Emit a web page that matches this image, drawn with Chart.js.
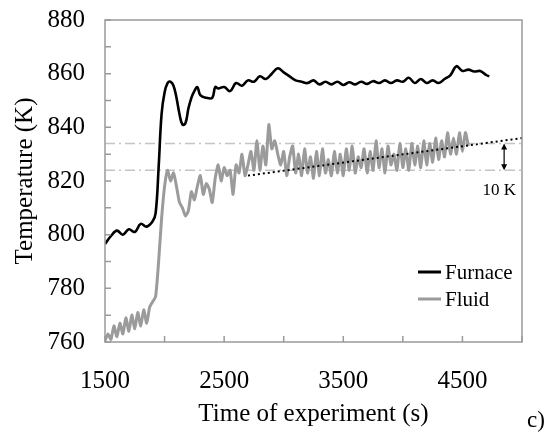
<!DOCTYPE html>
<html>
<head>
<meta charset="utf-8">
<script src="https://cdn.jsdelivr.net/npm/chart.js@4.4.0/dist/chart.umd.min.js"></script>
<style>
  html, body { margin: 0; padding: 0; background: #fff; }
  #wrap { width: 547px; height: 440px; }
</style>
</head>
<body>
<div id="wrap"><canvas id="c" width="547" height="440"></canvas></div>
<script>
const furnaceTime = [1500, 1550, 1600, 1650, 1700, 1750, 1800, 1850, 1900, 1925, 1950, 1975, 2000, 2025,
    2050, 2075, 2100, 2125, 2150, 2175, 2200, 2225, 2250, 2275, 2300, 2350, 2400, 2425, 2450, 2500,
    2550, 2600, 2650, 2700, 2750, 2800, 2850, 2900, 2950, 3000, 3050, 3100, 3150, 3200, 3250, 3300,
    3350, 3400, 3450, 3500, 3550, 3600, 3650, 3700, 3750, 3800, 3850, 3900, 3950, 4000, 4050, 4100,
    4150, 4200, 4250, 4300, 4350, 4400, 4450, 4500, 4550, 4600, 4650, 4700, 4725];
const furnaceTemp = [796.5, 799.5, 801.5, 800, 802, 801, 804, 803, 805, 808, 825, 845, 853, 856.5,
    857, 855.5, 851, 845, 841, 841.5, 847, 851, 853.5, 855, 852, 851, 851, 855, 854.5, 855,
    853.5, 856.5, 855.5, 857.5, 857, 859, 858, 860, 862, 860.5, 859, 857.5, 857, 856.5, 857.5, 856,
    857, 856, 857, 855.8, 856.8, 856, 857, 856.2, 857.2, 856.5, 857.5, 856.5, 857.5, 857, 858.5, 856.5,
    858, 856.5, 857.5, 856.5, 858, 859.5, 862.8, 861, 861.5, 860.8, 861, 859.5, 859];

const fluidTime = [1500, 1525, 1550, 1575, 1600, 1625, 1650, 1675, 1700, 1725, 1750, 1775, 1800, 1825,
    1850, 1875, 1900, 1925, 1950, 1975, 2000, 2025, 2050, 2075, 2100, 2125, 2150, 2175, 2200, 2225,
    2250, 2275, 2300, 2325, 2350, 2375, 2400, 2425, 2450, 2475, 2500, 2525, 2550, 2575, 2600, 2625,
    2650, 2675, 2700, 2725, 2750, 2775, 2800, 2825, 2850, 2875, 2900, 2925, 2950, 2975, 3000, 3025,
    3050, 3075, 3100, 3125, 3150, 3175, 3200, 3225, 3250, 3275, 3300, 3325, 3350, 3375, 3400, 3425,
    3450, 3475, 3500, 3525, 3550, 3575, 3600, 3625, 3650, 3675, 3700, 3725, 3750, 3775, 3800, 3825,
    3850, 3875, 3900, 3925, 3950, 3975, 4000, 4025, 4050, 4075, 4100, 4125, 4150, 4175, 4200, 4225,
    4250, 4275, 4300, 4325, 4350, 4375, 4400, 4425, 4450, 4475, 4500, 4525, 4550];
const fluidTemp = [760.5, 763, 761, 766, 762, 767, 763, 769, 764, 770, 765, 771, 766, 772,
    767, 773, 775, 777, 790, 806, 818, 824, 820, 823, 818, 812, 810, 807, 809, 816,
    813, 818, 822, 815, 819, 817, 812, 821, 826, 820, 825, 822, 824, 815, 826, 823,
    830, 822, 826, 831, 824, 835, 824, 833, 826, 841, 832, 835, 830, 826, 831, 822,
    829, 833, 823, 830, 822, 832, 823, 829, 821, 831, 822, 832, 823, 828, 822, 831,
    823, 830, 822, 832, 824, 833, 823, 829, 825, 832, 823, 831, 824, 835, 825, 832,
    823, 833, 826, 830, 824, 834, 825, 832, 824, 834, 826, 833, 825, 835, 826, 834,
    827, 836, 828, 835, 829, 838, 830, 836, 830, 838, 831, 838, 833];

// 10 K band and trend line
const bandTemps = [824, 834];
const trendTime = [2700, 5000];
const trendTemp = [822, 836];
const arrowTime = 4850;
const xTickLabels = [1500, 2500, 3500, 4500];

const serif = "'Liberation Serif', 'Times New Roman', serif";

function pts(xs, ys) {
    return xs.map((x, i) => ({ x: x, y: ys[i] }));
}

const frameAndTicks = {
    id: 'frameAndTicks',
    afterDatasetsDraw(chart) {
        const { ctx, chartArea: a, scales } = chart;
        ctx.save();
        ctx.strokeStyle = '#9a9a9a';
        ctx.lineWidth = 1.5;
        ctx.beginPath();
        scales.x.ticks.forEach(t => {
            const px = scales.x.getPixelForValue(t.value);
            ctx.moveTo(px, a.bottom);
            ctx.lineTo(px, a.bottom - 6);
        });
        scales.y.ticks.forEach(t => {
            const py = scales.y.getPixelForValue(t.value);
            ctx.moveTo(a.left, py);
            ctx.lineTo(a.left + 6, py);
        });
        ctx.stroke();
        ctx.strokeRect(a.left, a.top, a.right - a.left, a.bottom - a.top);
        ctx.restore();
    }
};

const annotations = {
    id: 'annotations',
    afterDatasetsDraw(chart) {
        const { ctx, scales } = chart;
        const x = scales.x.getPixelForValue(arrowTime);
        const y1 = scales.y.getPixelForValue(bandTemps[1]);
        const y2 = scales.y.getPixelForValue(bandTemps[0]);
        ctx.save();
        ctx.strokeStyle = '#000';
        ctx.fillStyle = '#000';
        ctx.lineWidth = 1.2;
        ctx.beginPath();
        ctx.moveTo(x, y1 + 3);
        ctx.lineTo(x, y2 - 3);
        ctx.stroke();
        ctx.beginPath();
        ctx.moveTo(x, y1);
        ctx.lineTo(x - 3, y1 + 6);
        ctx.lineTo(x + 3, y1 + 6);
        ctx.closePath();
        ctx.moveTo(x, y2);
        ctx.lineTo(x - 3, y2 - 6);
        ctx.lineTo(x + 3, y2 - 6);
        ctx.closePath();
        ctx.fill();

        ctx.font = '17px ' + serif;
        ctx.textAlign = 'center';
        ctx.textBaseline = 'middle';
        ctx.fillText('10 K', scales.x.getPixelForValue(4810), scales.y.getPixelForValue(816.5));

        // legend
        const items = [['Furnace', '#000'], ['Fluid', '#9b9b9b']];
        ctx.font = '21px ' + serif;
        ctx.textAlign = 'left';
        items.forEach((it, i) => {
            const ly = 272 + i * 27;
            ctx.strokeStyle = it[1];
            ctx.lineWidth = 3;
            ctx.beginPath();
            ctx.moveTo(418, ly);
            ctx.lineTo(441, ly);
            ctx.stroke();
            ctx.fillStyle = '#000';
            ctx.fillText(it[0], 445, ly + 1);
        });

        ctx.font = '23px ' + serif;
        ctx.fillText('c)', 527, 421);
        ctx.restore();
    }
};

new Chart(document.getElementById('c'), {
    type: 'line',
    data: {
        datasets: [
            {
                label: 'Furnace',
                data: pts(furnaceTime, furnaceTemp),
                borderColor: '#000',
                borderWidth: 2.6,
                pointRadius: 0,
                tension: 0.4,
                order: 1
            },
            {
                label: 'trend',
                data: pts(trendTime, trendTemp),
                borderColor: '#000',
                borderWidth: 2,
                borderDash: [2, 3],
                pointRadius: 0,
                order: 2
            },
            {
                label: 'Fluid',
                data: pts(fluidTime, fluidTemp),
                borderColor: '#9b9b9b',
                borderWidth: 3,
                pointRadius: 0,
                tension: 0.2,
                order: 3
            },
            {
                label: 'band high',
                data: pts([1500, 5000], [bandTemps[1], bandTemps[1]]),
                borderColor: '#c4c4c4',
                borderWidth: 1.5,
                borderDash: [10, 4, 2, 4],
                pointRadius: 0,
                order: 4
            },
            {
                label: 'band low',
                data: pts([1500, 5000], [bandTemps[0], bandTemps[0]]),
                borderColor: '#c4c4c4',
                borderWidth: 1.5,
                borderDash: [10, 4, 2, 4],
                pointRadius: 0,
                order: 5
            }
        ]
    },
    options: {
        responsive: false,
        animation: false,
        layout: { padding: { left: 0, right: 25, top: 20, bottom: 0 } },
        plugins: {
            legend: { display: false },
            tooltip: { enabled: false }
        },
        scales: {
            x: {
                type: 'linear',
                min: 1500,
                max: 5000,
                afterFit(scale) {
                    scale.height = 98;
                    scale.paddingLeft = 0;
                    scale.paddingRight = 0;
                },
                grid: { display: false, drawTicks: false },
                border: { display: false },
                ticks: {
                    stepSize: 500,
                    autoSkip: false,
                    maxRotation: 0,
                    padding: 24,
                    color: '#000',
                    font: { family: serif, size: 25 },
                    callback: v => xTickLabels.includes(v) ? String(v) : ''
                },
                title: {
                    display: true,
                    text: 'Time of experiment (s)',
                    color: '#000',
                    font: { family: serif, size: 25, lineHeight: 1.2 },
                    padding: { top: 0, bottom: 11 }
                }
            },
            y: {
                min: 760,
                max: 880,
                afterFit(scale) {
                    scale.width = 105;
                    scale.paddingTop = 0;
                    scale.paddingBottom = 0;
                },
                grid: { display: false, drawTicks: false },
                border: { display: false },
                ticks: {
                    stepSize: 10,
                    autoSkip: false,
                    padding: 20,
                    color: '#000',
                    font: { family: serif, size: 25 },
                    callback: v => v % 20 === 0 ? String(v) : ''
                },
                title: {
                    display: true,
                    text: 'Temperature (K)',
                    color: '#000',
                    font: { family: serif, size: 25, lineHeight: 1.2 },
                    padding: { top: 10, bottom: 0 }
                }
            }
        }
    },
    plugins: [frameAndTicks, annotations]
});
</script>
</body>
</html>
